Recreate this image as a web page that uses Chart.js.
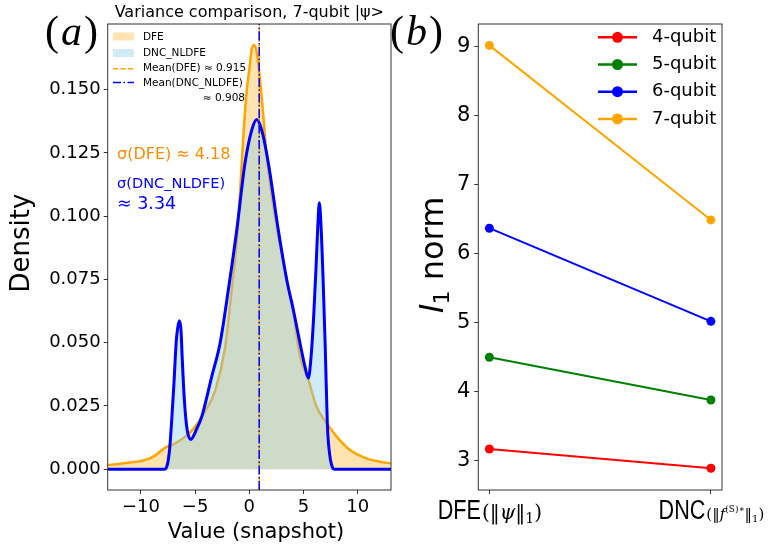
<!DOCTYPE html>
<html>
<head>
<meta charset="UTF-8">
<title>Variance comparison</title>
<script src="https://cdn.jsdelivr.net/npm/chart.js"></script>
<style>
  body { margin: 0; background: #fff; }
  #wrap { position: relative; width: 770px; height: 550px; }
  canvas { position: absolute; top: 0; }
  #densityChart { left: 0; }
  #normChart { left: 385px; }
</style>
</head>
<body>
<div id="wrap">
  <canvas id="densityChart" width="400" height="550"></canvas>
  <canvas id="normChart" width="385" height="550"></canvas>
</div>
<script>
// (a) density of snapshot values
const dfeX = [-13.06, -12, -11, -10.2, -9.5, -8.7, -7.8, -6.85, -5.9, -5.0, -4.08, -3.16, -2.24, -1.6, -1.07, -0.7, -0.3, 0.0, 0.2, 0.43, 0.65, 0.83, 1.14, 1.66, 2.58, 3.45, 4.06, 4.67, 5.44, 6.2, 7.13, 8.05, 9.28, 10.8, 12.0, 13.06];
const dfeY = [0.0017, 0.0021, 0.0027, 0.0031, 0.0038, 0.0054, 0.0084, 0.0102, 0.0129, 0.0168, 0.0228, 0.031, 0.048, 0.072, 0.0945, 0.121, 0.147, 0.158, 0.1655, 0.1676, 0.1655, 0.160, 0.147, 0.121, 0.0945, 0.0748, 0.0616, 0.0445, 0.0353, 0.0247, 0.0182, 0.0129, 0.0076, 0.0043, 0.0030, 0.0023];
const dncX = [-13.06, -7.8, -7.55, -7.35, -7.15, -6.95, -6.75, -6.6, -6.45, -6.3, -6.2, -6.0, -5.75, -5.4, -4.9, -4.39, -3.47, -2.7, -1.94, -1.16, -0.4, 0.22, 0.68, 1.14, 1.75, 2.67, 3.45, 4.06, 4.67, 5.13, 5.44, 5.7, 5.95, 6.15, 6.3, 6.45, 6.6, 6.8, 7.0, 7.19, 7.4, 7.6, 7.8, 13.06];
const dncY = [0, 0, 0.002, 0.008, 0.02, 0.034, 0.050, 0.056, 0.0587, 0.055, 0.045, 0.028, 0.016, 0.0118, 0.0155, 0.0208, 0.0366, 0.0498, 0.0708, 0.0945, 0.121, 0.134, 0.1382, 0.134, 0.121, 0.0945, 0.0748, 0.0629, 0.0498, 0.0405, 0.036, 0.045, 0.062, 0.080, 0.095, 0.1053, 0.097, 0.075, 0.048, 0.018, 0.006, 0.0015, 0, 0];
const meanDFE = 0.915;
const meanDNC = 0.908;
const sigmaDFE = 4.18;
const sigmaDNC = 3.34;
const densityTicksX = [-10, -5, 0, 5, 10];
const densityTicksY = [0, 0.025, 0.05, 0.075, 0.1, 0.125, 0.15];

// (b) l1 norm for each method
const methods = ['DFE', 'DNC'];
const qubitLabels = ['4-qubit', '5-qubit', '6-qubit', '7-qubit'];
const norm4 = [3.17, 2.89];
const norm5 = [4.50, 3.88];
const norm6 = [6.37, 5.02];
const norm7 = [9.02, 6.49];
const normTicksY = [3, 4, 5, 6, 7, 8, 9];

const FONT = '"DejaVu Sans", sans-serif';
const zip = (xs, ys) => xs.map((x, i) => ({x: x, y: ys[i]}));

const yLo = -0.0082, yHi = 0.1759;
const vline = x => [{x: x, y: yLo}, {x: x, y: yHi}];

const frame = {
  id: 'frame',
  afterDraw(chart) {
    const {ctx, chartArea: a} = chart;
    ctx.save();
    ctx.strokeStyle = '#333';
    ctx.lineWidth = 1;
    ctx.strokeRect(a.left, a.top, a.right - a.left, a.bottom - a.top);
    ctx.restore();
  }
};

// panel label like "(a)"
function panelLabel(ctx, letter, x, y) {
  ctx.save();
  ctx.fillStyle = '#000';
  ctx.textBaseline = 'middle';
  ctx.textAlign = 'left';
  ctx.font = '42px "Liberation Serif", serif';
  ctx.fillText('(', x, y);
  x += ctx.measureText('(').width + 2;
  ctx.font = 'italic 42px "Liberation Serif", serif';
  ctx.fillText(letter, x, y);
  x += ctx.measureText(letter).width + 2;
  ctx.font = '42px "Liberation Serif", serif';
  ctx.fillText(')', x, y);
  ctx.restore();
}

const densityDecor = {
  id: 'densityDecor',
  afterDraw(chart) {
    const {ctx, chartArea: a} = chart;
    ctx.save();
    ctx.fillStyle = '#000';
    ctx.font = '16px ' + FONT;
    ctx.textAlign = 'center';
    ctx.textBaseline = 'alphabetic';
    ctx.fillText('Variance comparison, 7-qubit |ψ>', (a.left + a.right) / 2, 17);

    ctx.font = '21px ' + FONT;
    ctx.fillText('Value (snapshot)', 256, 538);

    ctx.save();
    ctx.translate(22, 243);
    ctx.rotate(-Math.PI / 2);
    ctx.font = '26px ' + FONT;
    ctx.textBaseline = 'middle';
    ctx.fillText('Density', 0, 0);
    ctx.restore();

    // legend
    ctx.font = '10.5px ' + FONT;
    ctx.textAlign = 'left';
    ctx.textBaseline = 'middle';
    ctx.fillStyle = 'rgba(255,165,0,0.3)';
    ctx.fillRect(113, 32.5, 21, 8);
    ctx.fillStyle = 'rgba(135,206,235,0.4)';
    ctx.fillRect(113, 49, 21, 8);
    ctx.lineWidth = 1.5;
    ctx.strokeStyle = '#ffa500';
    ctx.setLineDash([5, 2.5]);
    ctx.beginPath(); ctx.moveTo(113, 68.7); ctx.lineTo(134, 68.7); ctx.stroke();
    ctx.strokeStyle = '#0000ff';
    ctx.setLineDash([8, 2.5, 1.5, 2.5]);
    ctx.beginPath(); ctx.moveTo(113, 82.5); ctx.lineTo(134, 82.5); ctx.stroke();
    ctx.setLineDash([]);
    ctx.fillStyle = '#000';
    ctx.fillText('DFE', 143, 37);
    ctx.fillText('DNC_NLDFE', 143, 53);
    ctx.fillText('Mean(DFE) ≈ ' + meanDFE.toFixed(3), 143, 68.7);
    ctx.fillText('Mean(DNC_NLDFE)', 143, 83.3);
    ctx.textAlign = 'right';
    ctx.fillText('≈ ' + meanDNC.toFixed(3), 245, 98.3);

    // sigma annotations
    ctx.textAlign = 'left';
    ctx.fillStyle = '#ff8c00';
    ctx.font = '16px ' + FONT;
    ctx.fillText('σ(DFE) ≈ ' + sigmaDFE.toFixed(2), 117, 155);
    ctx.fillStyle = '#0000ff';
    ctx.font = '14.6px ' + FONT;
    ctx.fillText('σ(DNC_NLDFE)', 117, 184);
    ctx.font = '17.5px ' + FONT;
    ctx.fillText('≈ ' + sigmaDNC.toFixed(2), 117, 204);

    panelLabel(ctx, 'a', 45, 34);
    ctx.restore();
  }
};

new Chart(document.getElementById('densityChart'), {
  type: 'line',
  data: {
    datasets: [
      { label: 'Mean(DNC_NLDFE)', data: vline(meanDNC), borderColor: '#0000ff', borderWidth: 1.5,
        borderDash: [9, 2.5, 1.5, 2.5], pointRadius: 0, fill: false, order: 0 },
      { label: 'Mean(DFE)', data: vline(meanDFE), borderColor: '#ffa500', borderWidth: 1.5,
        borderDash: [5.5, 2.5], pointRadius: 0, fill: false, order: 1 },
      { label: 'DNC_NLDFE', data: zip(dncX, dncY), borderColor: '#0000ff', backgroundColor: 'rgba(135,206,235,0.4)',
        borderWidth: 3, fill: 'origin', pointRadius: 0, cubicInterpolationMode: 'monotone', order: 2 },
      { label: 'DFE', data: zip(dfeX, dfeY), borderColor: '#ffa500', backgroundColor: 'rgba(255,165,0,0.3)',
        borderWidth: 2.5, fill: 'origin', pointRadius: 0, cubicInterpolationMode: 'monotone', order: 3 }
    ]
  },
  options: {
    responsive: false,
    animation: false,
    events: [],
    layout: { padding: { top: 24, right: 9, bottom: 0, left: 0 } },
    plugins: { legend: { display: false }, tooltip: { enabled: false } },
    scales: {
      x: {
        type: 'linear', min: -13.06, max: 13.06,
        afterBuildTicks: s => { s.ticks = densityTicksX.map(v => ({value: v})); },
        afterFit: s => { s.height = 60; },
        grid: { drawOnChartArea: false, drawTicks: true, tickLength: 4, color: '#333' },
        border: { display: false },
        ticks: { color: '#000', font: { family: FONT, size: 18 }, padding: 3,
          callback: v => v < 0 ? '\u2212' + Math.abs(v) : String(v) }
      },
      y: {
        type: 'linear', min: yLo, max: yHi,
        afterBuildTicks: s => { s.ticks = densityTicksY.map(v => ({value: v})); },
        afterFit: s => { s.width = 107.7; },
        grid: { drawOnChartArea: false, drawTicks: true, tickLength: 4, color: '#333' },
        border: { display: false },
        ticks: { color: '#000', font: { family: FONT, size: 18 }, padding: 3,
          callback: v => v.toFixed(3) }
      }
    }
  },
  plugins: [frame, densityDecor]
});

// (b)
const normSeries = [norm4, norm5, norm6, norm7];
const normColors = ['#ff0000', '#008000', '#0000ff', '#ffa500'];

const normDecor = {
  id: 'normDecor',
  afterDraw(chart) {
    const {ctx, scales} = chart;
    ctx.save();
    panelLabel(ctx, 'b', 5, 34);

    // legend
    ctx.textBaseline = 'middle';
    ctx.textAlign = 'left';
    ctx.font = '18px ' + FONT;
    qubitLabels.forEach((lab, i) => {
      const y = 37.3 + i * 27.2;
      ctx.strokeStyle = normColors[i];
      ctx.fillStyle = normColors[i];
      ctx.lineWidth = 2.5;
      ctx.beginPath(); ctx.moveTo(213, y); ctx.lineTo(252, y); ctx.stroke();
      ctx.beginPath(); ctx.arc(232.5, y, 5.5, 0, Math.PI * 2); ctx.fill();
      ctx.fillStyle = '#000';
      ctx.fillText(lab, 267, y);
    });

    // y label: l_1 norm
    ctx.save();
    ctx.translate(47, 255);
    ctx.rotate(-Math.PI / 2);
    ctx.textBaseline = 'alphabetic';
    const big = '32px ' + FONT, it = 'italic 32px ' + FONT, sub = '22px ' + FONT;
    ctx.font = it; const w1 = ctx.measureText('l').width;
    ctx.font = sub; const w2 = ctx.measureText('1').width;
    ctx.font = big; const w3 = ctx.measureText(' norm').width;
    let x = -(w1 + w2 + w3) / 2;
    const base = 11;
    ctx.font = it; ctx.fillText('l', x, base); x += w1;
    ctx.font = sub; ctx.fillText('1', x, base + 6); x += w2;
    ctx.font = big; ctx.fillText(' norm', x, base);
    ctx.restore();

    // category labels with their norm notes; first part squeezed to a narrow face
    const sans = '27px "Liberation Sans", sans-serif';
    const squeeze = 0.8;
    const parts = [
      [[methods[0], sans, 0], ['(\u2016', '20px "DejaVu Serif", serif', 0], ['ψ', 'italic 20px "DejaVu Serif", serif', 0],
       ['\u2016', '20px "DejaVu Serif", serif', 0], ['1', '14px "DejaVu Serif", serif', 4], [')', '20px "DejaVu Serif", serif', 0]],
      [[methods[1], sans, 0], ['(\u2016', '15px "DejaVu Serif", serif', 0], ['f', 'italic 15px "DejaVu Serif", serif', 0],
       ['(S)\u2217', '9px "DejaVu Serif", serif', -7], ['\u2016', '15px "DejaVu Serif", serif', 0],
       ['1', '10px "DejaVu Serif", serif', 3], [')', '15px "DejaVu Serif", serif', 0]]
    ];
    ctx.fillStyle = '#000';
    ctx.textBaseline = 'alphabetic';
    parts.forEach((segs, i) => {
      const widths = segs.map((s, k) => {
        ctx.font = s[1];
        return ctx.measureText(s[0]).width * (k === 0 ? squeeze : 1);
      });
      const total = widths.reduce((p, w) => p + w, 0);
      let px = scales.x.getPixelForValue(i) - total / 2;
      segs.forEach((s, k) => {
        ctx.font = s[1];
        if (k === 0) {
          ctx.save();
          ctx.translate(px, 519);
          ctx.scale(squeeze, 1);
          ctx.fillText(s[0], 0, 0);
          ctx.restore();
        } else {
          ctx.fillText(s[0], px, 519 + s[2]);
        }
        px += widths[k] + (k === 0 ? 1 : 0);
      });
    });
    ctx.restore();
  }
};

new Chart(document.getElementById('normChart'), {
  type: 'line',
  data: {
    datasets: normSeries.map((vals, i) => ({
      label: qubitLabels[i],
      data: vals.map((v, j) => ({x: j, y: v})),
      borderColor: normColors[i],
      backgroundColor: normColors[i],
      borderWidth: 2,
      pointRadius: 4.5,
      pointBorderWidth: 0,
      fill: false
    }))
  },
  options: {
    responsive: false,
    animation: false,
    events: [],
    layout: { padding: { top: 24, right: 48, bottom: 0, left: 0 } },
    plugins: { legend: { display: false }, tooltip: { enabled: false } },
    scales: {
      x: {
        type: 'linear', min: -0.05, max: 1.05,
        afterBuildTicks: s => { s.ticks = methods.map((m, j) => ({value: j})); },
        afterFit: s => { s.height = 60; },
        grid: { drawOnChartArea: false, drawTicks: true, tickLength: 4, color: '#333' },
        border: { display: false },
        ticks: { callback: () => '' }
      },
      y: {
        type: 'linear', min: 2.575, max: 9.33,
        afterBuildTicks: s => { s.ticks = normTicksY.map(v => ({value: v})); },
        afterFit: s => { s.width = 93.3; },
        grid: { drawOnChartArea: false, drawTicks: true, tickLength: 4, color: '#333' },
        border: { display: false },
        ticks: { color: '#000', font: { family: FONT, size: 21 }, padding: 4 }
      }
    }
  },
  plugins: [frame, normDecor]
});
</script>
</body>
</html>
